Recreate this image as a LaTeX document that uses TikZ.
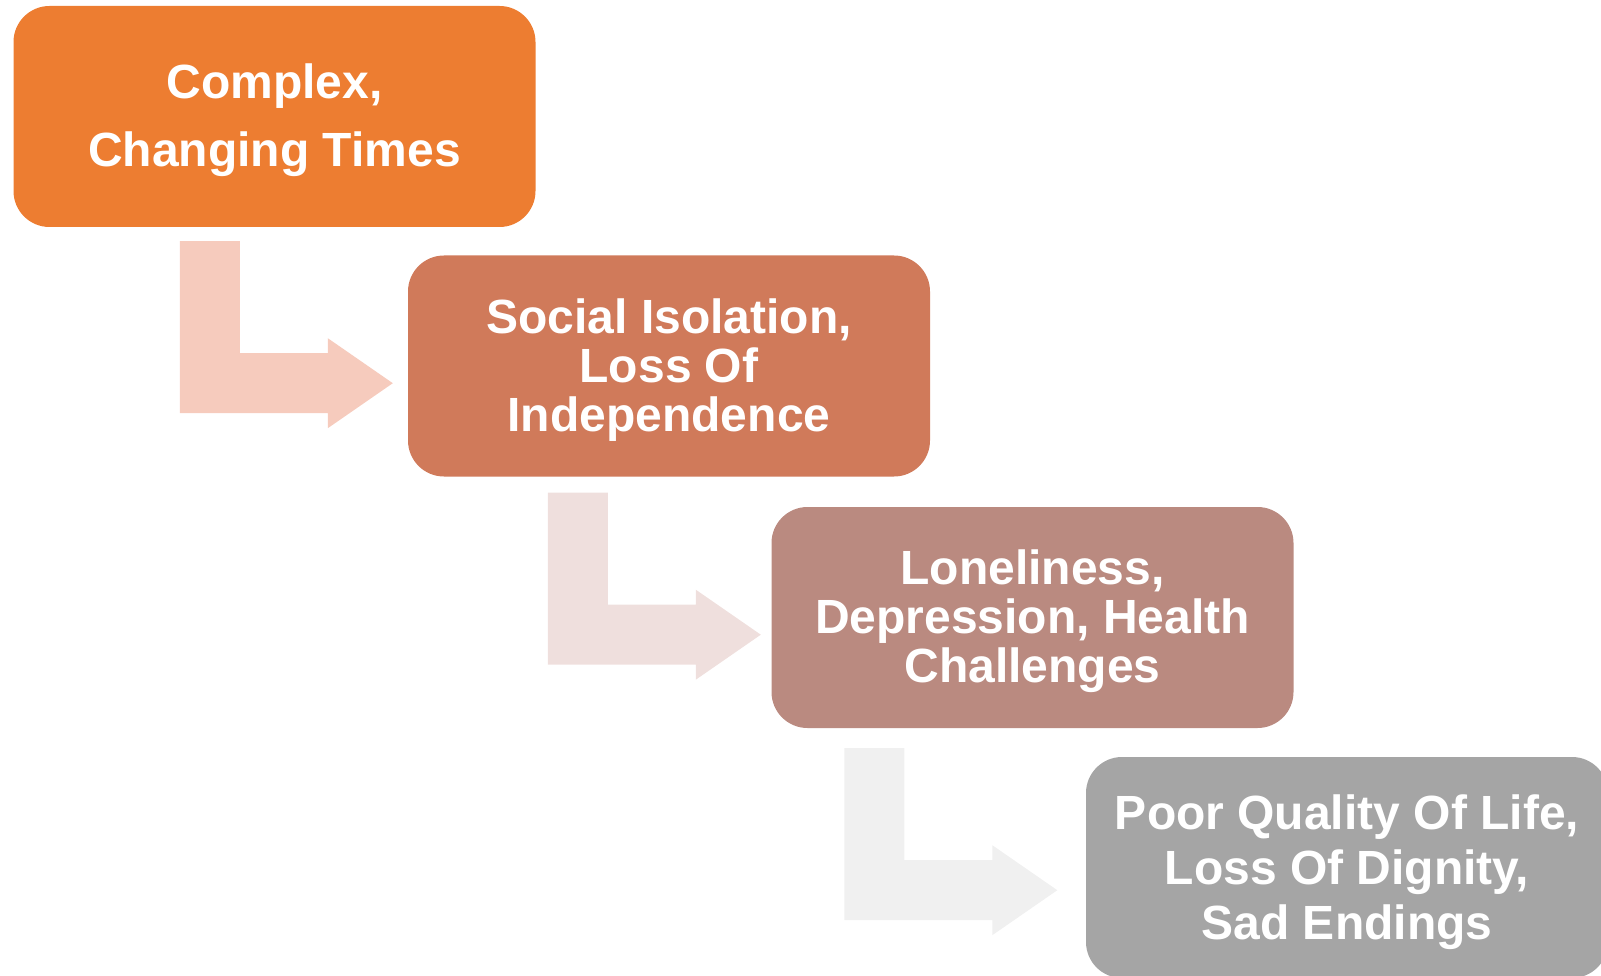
\documentclass[tikz,border=0pt]{standalone}
\usepackage{fontspec}
\setmainfont{Liberation Sans}
\usetikzlibrary{calc}

\definecolor{stageA}{HTML}{ED7D31}
\definecolor{stageB}{HTML}{D07A5A}
\definecolor{stageC}{HTML}{BA8A80}
\definecolor{stageD}{HTML}{A5A5A5}
\definecolor{flowA}{HTML}{F6CBBD}
\definecolor{flowB}{HTML}{EFDFDD}
\definecolor{flowC}{HTML}{F0F0F0}

\tikzset{
  stagebox/.style={rounded corners=36pt, minimum width=522pt, minimum height=221pt,
    inner sep=0pt},
  stagetext/.style={inner sep=0pt, text=white, align=center,
    font=\bfseries\fontsize{48}{#1}\selectfont},
  bentarrow/.pic={
    \fill[pic actions] (0,0) -- (60,0) -- (60,112) -- (148,112) -- (148,97)
      -- (213,142) -- (148,187) -- (148,172) -- (0,172) -- cycle;
  }
}

\begin{document}
\begin{tikzpicture}[x=1pt,y=-1pt]
  \useasboundingbox (0,0) rectangle (1601,976);
  \clip (0,0) rectangle (1601,976);

  % the four stages, stepping down to the right
  \node[stagebox, fill=stageA] (s1) at (274.5,116.5) {};
  \node[stagebox, fill=stageB] (s2) at (669,366) {};
  \node[stagebox, fill=stageC] (s3) at (1032.5,617.5) {};
  \node[stagebox, fill=stageD] (s4) at (1347,867.5) {};

  % their labels
  \node[stagetext=68] (t1) at ($(s1.center)+(0,4)$) {Complex,\\Changing Times};
  \node[stagetext=49] (t2) at ($(s2.center)+(0,4)$) {Social Isolation,\\Loss Of\\Independence};
  \node[stagetext=49] (t3) at ($(s3.center)+(0,4)$) {Loneliness,\\Depression, Health\\Challenges};
  \node[stagetext=55] (t4) at ($(s4.center)+(0,5)$) {Poor Quality Of Life,\\Loss Of Dignity,\\Sad Endings};

  % bent arrows leading from each stage to the next
  \pic[fill=flowA] at ($(s1.south west)+(166.5,14)$) {bentarrow};
  \pic[fill=flowB] at ($(s2.south west)+(140,16)$) {bentarrow};
  \pic[fill=flowC] at ($(s3.south west)+(73,20)$) {bentarrow};
\end{tikzpicture}
\end{document}
